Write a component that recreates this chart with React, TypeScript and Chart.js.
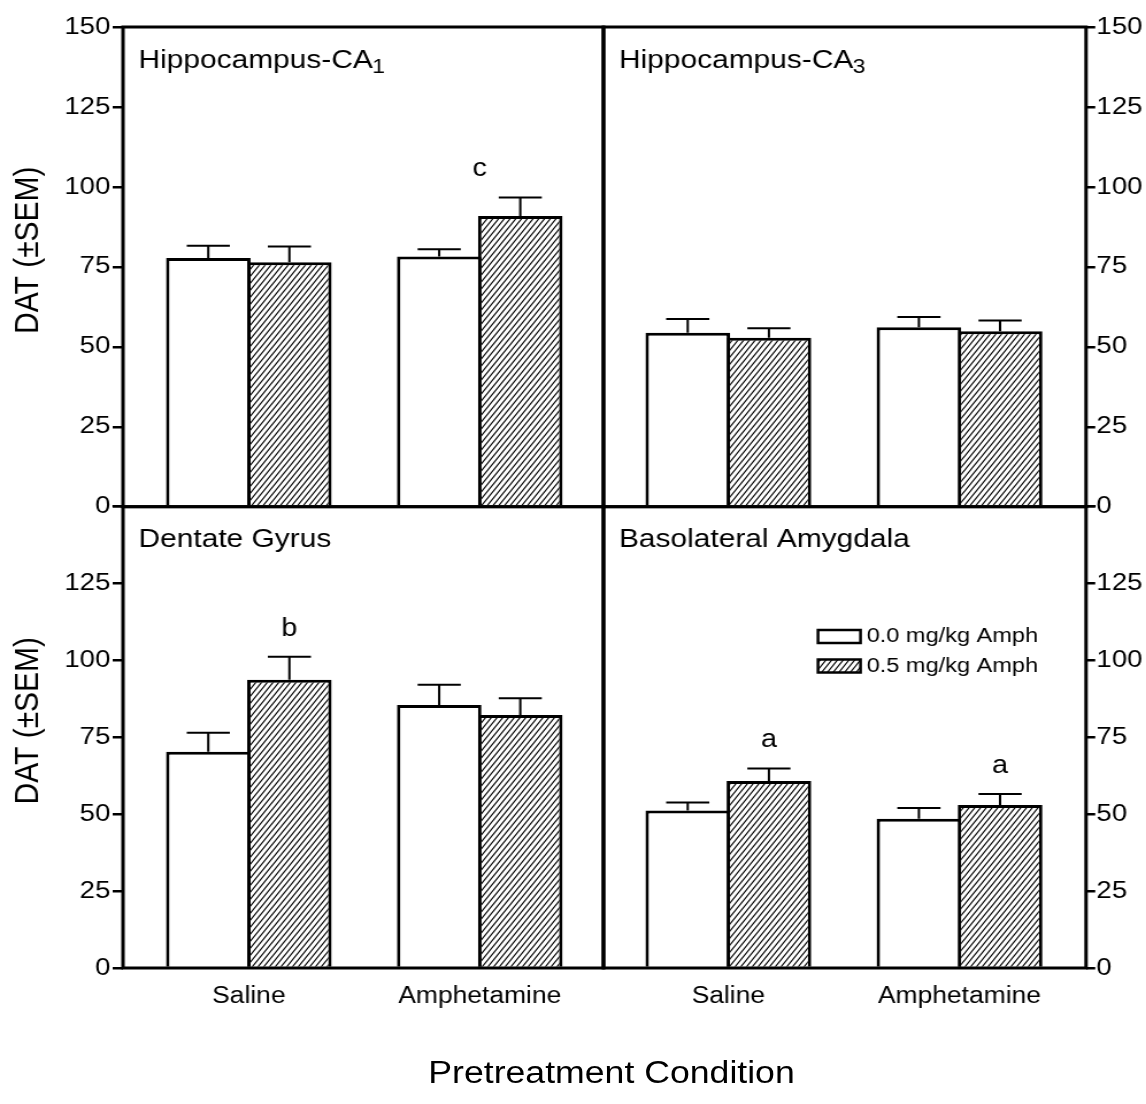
import React, { useEffect, useRef } from "react";
import { Chart, registerables } from "chart.js";

Chart.register(...registerables);

// ---------------- data ----------------
const categories = ["Saline", "Amphetamine"];
const doseLabels = ["0.0 mg/kg Amph", "0.5 mg/kg Amph"];
const yTicks = [0, 25, 50, 75, 100, 125, 150];
const yAxisLabel = "DAT (±SEM)";
const xAxisLabel = "Pretreatment Condition";

const panelTitles = ["Hippocampus-CA", "Hippocampus-CA", "Dentate Gyrus", "Basolateral Amygdala"];
const panelSubscripts = ["1", "3", "", ""];

// Hippocampus-CA1
const ca1Dose0 = [77.8, 78.2];
const ca1Sem0 = [3.8, 2.3];
const ca1Dose05 = [76.4, 90.9];
const ca1Sem05 = [5.0, 5.8];
const ca1Letters = ["", "c"];

// Hippocampus-CA3
const ca3Dose0 = [54.4, 56.1];
const ca3Sem0 = [4.3, 3.2];
const ca3Dose05 = [52.8, 54.9];
const ca3Sem05 = [3.0, 3.3];
const ca3Letters = ["", ""];

// Dentate Gyrus
const dgDose0 = [70.3, 85.5];
const dgSem0 = [6.2, 6.6];
const dgDose05 = [93.7, 82.3];
const dgSem05 = [7.5, 5.4];
const dgLetters = ["b", ""];

// Basolateral Amygdala
const blaDose0 = [51.2, 48.5];
const blaSem0 = [2.6, 3.5];
const blaDose05 = [60.8, 53.0];
const blaSem05 = [4.1, 3.6];
const blaLetters = ["a", "a"];

// ---------------- layout (unstretched px) ----------------
const S = 1.1495; // horizontal stretch of the whole figure
const W = 997;
const H = 1104;
const X_LEFT = 107.0;
const X_MID = 525.0;
const X_RIGHT = 944.8;
const Y_TOP = 27;
const Y_MID = 506.7;
const Y_BOT = 968;
const XAXIS_H = 60;
const X_RANGE_LEFT = [0.455, 2.536];
const X_RANGE_RIGHT = [0.46, 2.5475];
const CAT_PCT = 0.7023;
const BAR_PCT = 1.0425;
const CAP_FRAC = 0.51;
const FONT = 'Arial, "Liberation Sans", Helvetica, sans-serif';

Chart.defaults.font.family = FONT;
Chart.defaults.color = "#000";

type Panel = {
  row: number;
  col: number;
  title: string;
  sub: string;
  v0: number[];
  s0: number[];
  v1: number[];
  s1: number[];
  letters: string[];
  letterAtGroup: boolean;
  legend: boolean;
};

const panels: Panel[] = [
  { row: 0, col: 0, title: panelTitles[0], sub: panelSubscripts[0], v0: ca1Dose0, s0: ca1Sem0, v1: ca1Dose05, s1: ca1Sem05, letters: ca1Letters, letterAtGroup: true, legend: false },
  { row: 0, col: 1, title: panelTitles[1], sub: panelSubscripts[1], v0: ca3Dose0, s0: ca3Sem0, v1: ca3Dose05, s1: ca3Sem05, letters: ca3Letters, letterAtGroup: false, legend: false },
  { row: 1, col: 0, title: panelTitles[2], sub: panelSubscripts[2], v0: dgDose0, s0: dgSem0, v1: dgDose05, s1: dgSem05, letters: dgLetters, letterAtGroup: false, legend: false },
  { row: 1, col: 1, title: panelTitles[3], sub: panelSubscripts[3], v0: blaDose0, s0: blaSem0, v1: blaDose05, s1: blaSem05, letters: blaLetters, letterAtGroup: false, legend: true },
];

function makeHatch(ctx: CanvasRenderingContext2D): CanvasPattern | string {
  const w = 5;
  const h = 7;
  const tile = document.createElement("canvas");
  tile.width = w;
  tile.height = h;
  const t = tile.getContext("2d");
  if (!t) return "#fff";
  t.fillStyle = "#fff";
  t.fillRect(0, 0, w, h);
  t.strokeStyle = "#000";
  t.lineWidth = 1.1;
  t.beginPath();
  for (let k = -1; k <= 1; k++) {
    t.moveTo(-w + k * w, 2 * h);
    t.lineTo(2 * w + k * w, -h);
  }
  t.stroke();
  return ctx.createPattern(tile, "repeat") || "#fff";
}

const decorPlugin = {
  id: "decor",
  afterDatasetsDraw(chart: any, _args: any, opts: any) {
    const { ctx, scales } = chart;
    const y = scales.y;
    ctx.save();
    ctx.strokeStyle = "#000";
    ctx.lineWidth = 2;
    chart.data.datasets.forEach((ds: any, di: number) => {
      const meta = chart.getDatasetMeta(di);
      const sems: number[] = opts.sems[di];
      meta.data.forEach((el: any, j: number) => {
        const v = ds.data[j].y;
        const top = y.getPixelForValue(v + sems[j]);
        const half = (el.width * CAP_FRAC) / 2;
        ctx.beginPath();
        ctx.moveTo(el.x, el.y);
        ctx.lineTo(el.x, top);
        ctx.moveTo(el.x - half, top);
        ctx.lineTo(el.x + half, top);
        ctx.stroke();
      });
    });
    ctx.restore();
  },
  afterDraw(chart: any, _args: any, opts: any) {
    const { ctx, chartArea: ca, scales } = chart;
    const x = scales.x;
    const y = scales.y;
    ctx.save();
    // frame
    ctx.strokeStyle = "#000";
    ctx.lineWidth = 3;
    ctx.strokeRect(ca.left, ca.top, ca.right - ca.left, ca.bottom - ca.top);

    // panel title
    ctx.fillStyle = "#000";
    ctx.textAlign = "left";
    ctx.textBaseline = "alphabetic";
    ctx.font = `26px ${FONT}`;
    const tx = ca.left + 13.5;
    const ty = ca.top + 40.5;
    ctx.fillText(opts.title, tx, ty);
    if (opts.sub) {
      const tw = ctx.measureText(opts.title).width;
      ctx.font = `20px ${FONT}`;
      ctx.fillText(opts.sub, tx + tw - 0.5, ty + 5);
    }

    // significance letters over the 0.5 mg/kg series
    const ds1 = chart.data.datasets[1];
    const meta1 = chart.getDatasetMeta(1);
    ctx.font = `25px ${FONT}`;
    ctx.textAlign = "center";
    (opts.letters as string[]).forEach((letter, j) => {
      if (!letter) return;
      const v = ds1.data[j].y;
      const top = y.getPixelForValue(v + opts.sems[1][j]);
      const lx = opts.letterAtGroup ? x.getPixelForValue(j + 1) : meta1.data[j].x;
      ctx.fillText(letter, lx, top - 21);
    });

    // legend
    if (opts.legend) {
      chart.data.datasets.forEach((ds: any, i: number) => {
        const cy = ca.top + 129.8 + i * 29.5;
        const bx = ca.left + 186.6;
        ctx.fillStyle = ds.backgroundColor;
        ctx.fillRect(bx, cy - 6.5, 37, 13);
        ctx.lineWidth = 2.5;
        ctx.strokeStyle = "#000";
        ctx.strokeRect(bx, cy - 6.5, 37, 13);
        ctx.fillStyle = "#000";
        ctx.font = `20.5px ${FONT}`;
        ctx.textAlign = "left";
        ctx.textBaseline = "middle";
        ctx.fillText(ds.label, ca.left + 228.9, cy);
      });
    }
    ctx.restore();
  },
};

function buildChart(canvas: HTMLCanvasElement, p: Panel): Chart | null {
  const ctx = canvas.getContext("2d");
  if (!ctx) return null;
  const hatch = makeHatch(ctx);
  const isLeft = p.col === 0;
  const isTop = p.row === 0;
  const xr = isLeft ? X_RANGE_LEFT : X_RANGE_RIGHT;

  return new Chart(ctx, {
    type: "bar",
    data: {
      datasets: [
        {
          label: doseLabels[0],
          data: categories.map((_, i) => ({ x: i + 1, y: p.v0[i] })),
          backgroundColor: "#fff",
          borderColor: "#000",
          borderWidth: 3,
          categoryPercentage: CAT_PCT,
          barPercentage: BAR_PCT,
        },
        {
          label: doseLabels[1],
          data: categories.map((_, i) => ({ x: i + 1, y: p.v1[i] })),
          backgroundColor: hatch as any,
          borderColor: "#000",
          borderWidth: 3,
          categoryPercentage: CAT_PCT,
          barPercentage: BAR_PCT,
        },
      ],
    },
    options: {
      responsive: false,
      maintainAspectRatio: false,
      animation: false,
      events: [],
      layout: {
        autoPadding: false,
        padding: {
          left: isLeft ? 0 : X_MID,
          right: isLeft ? W - X_MID : 0,
          top: isTop ? Y_TOP : Y_MID,
          bottom: isTop ? H - Y_MID : H - Y_BOT - XAXIS_H,
        },
      },
      plugins: {
        legend: { display: false },
        tooltip: { enabled: false },
        title: { display: false },
        decor: {
          sems: [p.s0, p.s1],
          title: p.title,
          sub: p.sub,
          letters: p.letters,
          letterAtGroup: p.letterAtGroup,
          legend: p.legend,
        },
      } as any,
      scales: {
        x: {
          type: "linear",
          position: "bottom",
          min: xr[0],
          max: xr[1],
          offset: false,
          bounds: "data",
          afterBuildTicks: (s: any) => {
            s.ticks = categories.map((_, i) => ({ value: i + 1 }));
          },
          afterFit: (s: any) => {
            s.height = isTop ? 0 : XAXIS_H;
          },
          grid: { display: false, drawTicks: false, offset: false },
          border: { display: false },
          ticks: {
            display: !isTop,
            padding: 14.7,
            font: { size: 23 },
            color: "#000",
            maxRotation: 0,
            minRotation: 0,
            autoSkip: false,
            callback: (v: any) => categories[Math.round(Number(v)) - 1] ?? "",
          },
        } as any,
        y: {
          type: "linear",
          position: isLeft ? "left" : "right",
          min: 0,
          max: 150,
          afterBuildTicks: (s: any) => {
            s.ticks = yTicks.map((v) => ({ value: v }));
          },
          afterFit: (s: any) => {
            s.width = isLeft ? X_LEFT : W - X_RIGHT;
          },
          grid: {
            display: true,
            drawOnChartArea: false,
            drawTicks: true,
            tickLength: isLeft ? 9 : 8,
            color: "#000",
            lineWidth: 2.5,
          },
          border: { display: false },
          ticks: {
            padding: isLeft ? 2 : 1,
            font: { size: 24 },
            color: "#000",
            callback: (v: any) => (!isTop && Number(v) === 150 ? "" : String(v)),
          },
          title: {
            display: isLeft,
            text: "    " + yAxisLabel,
            font: { size: 30 },
            color: "#000",
            padding: { top: 6.4, bottom: 0 },
          },
        } as any,
      },
    },
    plugins: [decorPlugin as any],
  });
}

export default function App() {
  const refs = useRef<(HTMLCanvasElement | null)[]>([]);

  useEffect(() => {
    const charts: (Chart | null)[] = panels.map((p, i) => {
      const c = refs.current[i];
      return c ? buildChart(c, p) : null;
    });
    return () => {
      charts.forEach((c) => c && c.destroy());
    };
  }, []);

  return (
    <div
      style={{
        position: "absolute",
        left: 0,
        top: 0,
        width: W,
        height: H,
        transform: `scaleX(${S})`,
        transformOrigin: "0 0",
        background: "#fff",
        overflow: "hidden",
      }}
    >
      {panels.map((_, i) => (
        <canvas
          key={i}
          ref={(el) => {
            refs.current[i] = el;
          }}
          width={W}
          height={H}
          style={{ position: "absolute", left: 0, top: 0, width: W, height: H }}
        />
      ))}
      <div
        style={{
          position: "absolute",
          left: 0,
          top: 1057,
          width: 1064,
          textAlign: "center",
          fontFamily: FONT,
          fontSize: 31,
          lineHeight: "31px",
          color: "#000",
          whiteSpace: "nowrap",
        }}
      >
        {xAxisLabel}
      </div>
    </div>
  );
}
